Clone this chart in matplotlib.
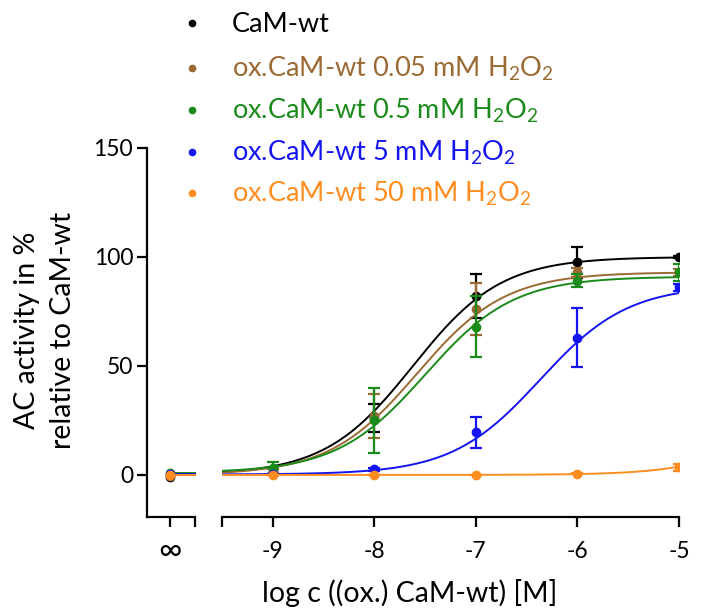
import matplotlib
matplotlib.use('Agg')
from matplotlib import pyplot as plt
from matplotlib.lines import Line2D
import numpy as np

plt.rcParams['font.family'] = ['Lato', 'DejaVu Sans']
plt.rcParams['mathtext.fontset'] = 'custom'
plt.rcParams['mathtext.rm'] = 'Lato'
plt.rcParams['mathtext.default'] = 'regular'
plt.rcParams['font.size'] = 16

# log concentrations of the measured points
log_conc = [-9, -8, -7, -6, -5]

labels = ['CaM-wt',
          r'ox.CaM-wt 0.05 mM H$_2$O$_2$',
          r'ox.CaM-wt 0.5 mM H$_2$O$_2$',
          r'ox.CaM-wt 5 mM H$_2$O$_2$',
          r'ox.CaM-wt 50 mM H$_2$O$_2$']
colors = ['#000000', '#9b6a33', '#1a8a1a', '#1414f0', '#ff8c1e']

# mean activity (%) and error per series
cam_wt = [1.5, 26, 82, 97.5, 100]
cam_wt_err = [1, 6.5, 10, 7, 0.5]
ox_005 = [1.5, 27, 76, 93, 93]
ox_005_err = [1, 10, 12, 2, 1.5]
ox_05 = [3, 25, 68, 89, 93]
ox_05_err = [3, 15, 14, 3, 4]
ox_5 = [0.3, 2.5, 19.5, 63, 86]
ox_5_err = [0, 0.5, 7, 13.5, 1.5]
ox_50 = [0, 0, 0, 0.5, 3.5]
ox_50_err = [0, 0, 0, 0.3, 1.5]

# values at infinite dilution (no CaM)
inf_vals = [-1.0, -0.5, 0.8, 0.2, 0.0]

# sigmoidal fit parameters: bottom, top, logEC50, hill slope
fit_bottom = [0, 0, 1, 0.2, 0]
fit_top = [100, 93, 91, 87, 100]
fit_logec50 = [-7.62, -7.58, -7.5, -6.37, -3.6]
fit_hill = [1, 1, 1, 1, 1]

means = [cam_wt, ox_005, ox_05, ox_5, ox_50]
errs = [cam_wt_err, ox_005_err, ox_05_err, ox_5_err, ox_50_err]

fig = plt.figure(figsize=(7.02, 6.15), dpi=100)
W, H = 702.0, 615.0
bottom_px, top_px = 517, 148
ax0 = fig.add_axes([147 / W, 1 - bottom_px / H, 48 / W, (bottom_px - top_px) / H])
ax1 = fig.add_axes([222 / W, 1 - bottom_px / H, 457 / W, (bottom_px - top_px) / H])

ylim = (-19.3, 150)
xfit = np.linspace(-9.5, -5, 300)
for i in range(len(labels)):
    c = colors[i]
    yfit = fit_bottom[i] + (fit_top[i] - fit_bottom[i]) / (1 + 10 ** ((fit_logec50[i] - xfit) * fit_hill[i]))
    ax1.plot(xfit, yfit, color=c, lw=1.4, zorder=2 + i)
    ax1.errorbar(log_conc, means[i], yerr=errs[i], fmt='o', color=c, ms=6,
                 elinewidth=1.6, capsize=4.5, capthick=1.6, zorder=3 + i)
    ax0.plot([0, 1.1], [fit_bottom[i], fit_bottom[i]], color=c, lw=1.4, zorder=2 + i, clip_on=False)
    ax0.plot([0], [inf_vals[i]], 'o', color=c, ms=6, zorder=3 + i, clip_on=False)

for ax in (ax0, ax1):
    ax.set_ylim(*ylim)
    ax.spines['top'].set_visible(False)
    ax.spines['right'].set_visible(False)
    for s in ax.spines.values():
        s.set_linewidth(1.6)
    ax.tick_params(axis='x', direction='out', length=7, width=1.6, pad=10, labelsize=16.5)
    ax.tick_params(axis='y', direction='out', length=7, width=1.6, pad=3, labelsize=16.5)

ax0.set_xlim(-1, 1.1)
ax0.set_xticks([0, 1.1])
ax0.set_xticklabels(['\u221e', ''])
ax0.get_xticklabels()[0].set_fontsize(23)
ax0.tick_params(axis='x', pad=7)
ax0.set_yticks([0, 50, 100, 150])

ax1.set_xlim(-9.5, -5)
ax1.set_xticks([-9.5, -9, -8, -7, -6, -5])
ax1.set_xticklabels(['', '-9', '-8', '-7', '-6', '-5'])
ax1.spines['left'].set_visible(False)
ax1.set_yticks([])

fig.text(410 / W, 1 - 593 / H, 'log c ((ox.) CaM-wt) [M]', ha='center', va='center', fontsize=20.5)
fig.text(45 / W, 1 - 330 / H, 'AC activity in %\nrelative to CaM-wt', ha='center', va='center',
         rotation=90, fontsize=20.5, linespacing=1.5)

# legend rows drawn by hand: dot then coloured label
row_y = [23, 68, 110, 152, 193]
for i in range(len(labels)):
    fig.add_artist(Line2D([192 / W], [1 - row_y[i] / H], transform=fig.transFigure,
                          marker='o', ls='none', color=colors[i], ms=4.5))
    fig.text(232 / W, 1 - (row_y[i] + 9) / H, labels[i], color=colors[i],
             ha='left', va='baseline', fontsize=19.5)

fig.savefig('out.png', dpi=100)
